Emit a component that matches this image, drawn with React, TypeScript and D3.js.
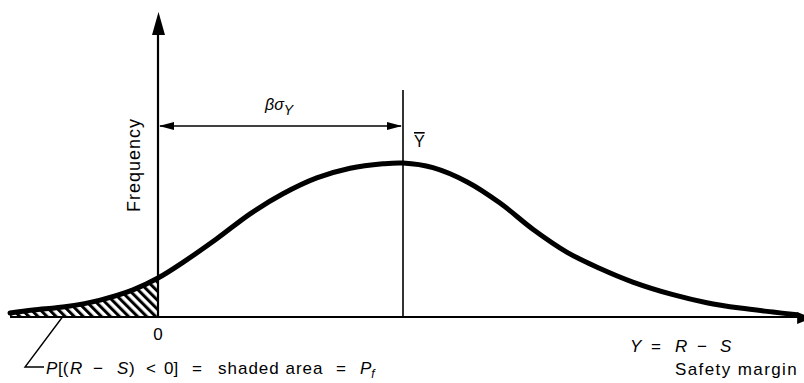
import React from 'react';
import * as d3 from 'd3';

const W = 804;
const H = 383;

// Safety margin Y = R − S (units chosen so that Ȳ = βσY = 5) and relative frequency
const marginValues = [
  -3.02, -2.55, -1.86, -1.18, -0.51, 0, 0.51, 1.2, 1.88, 2.55, 3.24, 3.92, 4.59, 5.0,
  5.61, 6.31, 6.98, 7.65, 8.35, 9.02, 9.69, 10.51, 11.2, 11.88, 12.55, 13.04,
];
const frequencyValues = [
  0.026, 0.045, 0.068, 0.11, 0.176, 0.253, 0.355, 0.508, 0.67, 0.8, 0.903, 0.966, 0.995, 1.0,
  0.97, 0.877, 0.74, 0.57, 0.42, 0.315, 0.227, 0.145, 0.093, 0.058, 0.032, 0.014,
];
const meanMargin = 5;
const failureLimit = 0;
const axisRange = [-3.02, 13.35];
const tickLabels = ['0'];

const FONT = "'Liberation Sans', Arial, Helvetica, sans-serif";

export default function App() {
  const x = d3.scaleLinear().domain([0, 5]).range([158, 403]);
  const y = d3.scaleLinear().domain([0, 1]).range([317, 163]);

  const pts: [number, number][] = marginValues.map((m, i) => [m, frequencyValues[i]]);

  const line = d3
    .line<[number, number]>()
    .x((d) => x(d[0]))
    .y((d) => y(d[1]))
    .curve(d3.curveCatmullRom.alpha(0.5));

  const area = d3
    .area<[number, number]>()
    .x((d) => x(d[0]))
    .y0(y(0))
    .y1((d) => y(d[1]))
    .curve(d3.curveCatmullRom.alpha(0.5));

  const x0 = x(failureLimit);
  const xm = x(meanMargin);
  const yb = y(0);
  const xL = x(axisRange[0]);
  const xR = x(axisRange[1]);

  const dimY = 126;
  const italic = { fontStyle: 'italic' as const };

  return (
    <svg
      width={W}
      height={H}
      viewBox={`0 0 ${W} ${H}`}
      style={{ position: 'absolute', left: 0, top: 0, background: '#fff' }}
      fontFamily={FONT}
    >
      <defs>
        <pattern
          id="hatch"
          patternUnits="userSpaceOnUse"
          width={6.4}
          height={6.4}
          patternTransform="rotate(-45)"
        >
          <rect width={3} height={6.4} fill="#000" />
        </pattern>
        <clipPath id="failClip">
          <rect x={0} y={0} width={x0} height={H} />
        </clipPath>
      </defs>

      {/* shaded failure region P[(R − S) < 0] */}
      <path d={area(pts) || ''} fill="url(#hatch)" clipPath="url(#failClip)" />

      {/* horizontal axis with arrow */}
      <line x1={xL} x2={xR - 12} y1={yb} y2={yb} stroke="#000" strokeWidth={2} />
      <path d={`M${xR},${yb + 1} L${xR - 15},${yb - 5} L${xR - 15},${yb + 7} Z`} fill="#000" />

      {/* vertical (frequency) axis with arrow */}
      <line x1={x0} x2={x0} y1={yb} y2={30} stroke="#000" strokeWidth={2.2} />
      <path d={`M${x0 + 0.5},12 L${x0 - 6},35 L${x0 + 7},35 Z`} fill="#000" />

      {/* mean line */}
      <line x1={xm} x2={xm} y1={90} y2={yb} stroke="#000" strokeWidth={1.6} />

      {/* βσY dimension arrow */}
      <line x1={x0 + 2} x2={xm - 2} y1={dimY} y2={dimY} stroke="#000" strokeWidth={1.4} />
      <path d={`M${x0 + 1},${dimY} L${x0 + 16},${dimY - 4} L${x0 + 16},${dimY + 4} Z`} fill="#000" />
      <path d={`M${xm - 1},${dimY} L${xm - 16},${dimY - 4} L${xm - 16},${dimY + 4} Z`} fill="#000" />

      {/* distribution curve */}
      <path
        d={line(pts) || ''}
        fill="none"
        stroke="#000"
        strokeWidth={5}
        strokeLinecap="round"
        strokeLinejoin="round"
      />

      {/* labels */}
      <text
        transform="translate(140,165) rotate(-90)"
        textAnchor="middle"
        fontSize={18}
        letterSpacing={1}
        fill="#000"
      >
        Frequency
      </text>

      {tickLabels.map((t) => (
        <text key={t} x={x(+t)} y={340} textAnchor="middle" fontSize={17} fill="#000">
          {t}
        </text>
      ))}

      <text x={265} y={110} fontSize={16} fill="#000" style={italic}>
        βσ
        <tspan dy={5} fontSize={14}>
          Y
        </tspan>
      </text>

      <text x={414} y={147} fontSize={16} fill="#000" style={{ textDecoration: 'overline' }}>
        Y
      </text>

      <text y={352} fontSize={17} fill="#000">
        <tspan x={630} style={italic}>Y</tspan>
        <tspan x={651}>=</tspan>
        <tspan x={675} style={italic}>R</tspan>
        <tspan x={697}>−</tspan>
        <tspan x={720} style={italic}>S</tspan>
      </text>
      <text x={675} y={375} fontSize={17} letterSpacing={1.4} fill="#000">
        Safety margin
      </text>

      {/* leader to the shaded area */}
      <path d={`M44,367 L25,367 L${x(-1.95)},${yb}`} fill="none" stroke="#000" strokeWidth={1.4} />

      <text y={374} fontSize={17} fill="#000">
        <tspan x={46} style={italic}>P</tspan>
        <tspan x={58}>[(</tspan>
        <tspan x={70} style={italic}>R</tspan>
        <tspan x={93}>−</tspan>
        <tspan x={117} style={italic}>S</tspan>
        <tspan x={129}>)</tspan>
        <tspan x={146}>&lt;</tspan>
        <tspan x={164}>0]</tspan>
        <tspan x={192}>=</tspan>
        <tspan x={218} letterSpacing={1}>shaded area</tspan>
        <tspan x={336}>=</tspan>
        <tspan x={360} style={italic}>P</tspan>
        <tspan dy={4} fontSize={12} style={italic}>f</tspan>
      </text>
    </svg>
  );
}
